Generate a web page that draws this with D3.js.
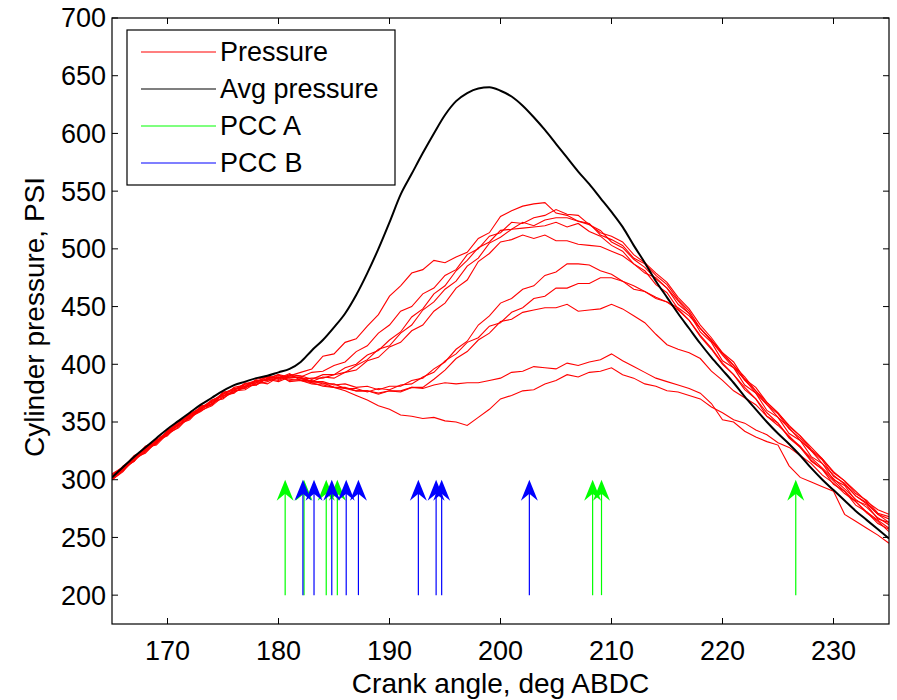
<!DOCTYPE html>
<html>
<head>
<meta charset="utf-8">
<script src="https://cdn.jsdelivr.net/npm/d3@7"></script>
<style>
  body { margin: 0; background: #fff; }
</style>
</head>
<body>
<div id="chart"></div>
<script>
// crank angle grid, 1 deg steps
const angles = d3.range(165, 236);

const avgPressure = [302,311,320,328,336,344,351,358,365,371,377,382,385,388,390,393,396,
  402,412,421,432,444,460,479,500,523,547,565,583,600,616,628,635,639,640,637,632,624,614,603,591,579,567,556,544,532,
  519,503,488,472,458,444,431,418,406,395,384,372,361,350,340,331,321,310,300,291,282,273,265,257,249];

const run1 = [303,309,319,326,333,342,350,355,361,368,375,378,383,385,389,388,390,
  393,396,407,409,419,422,433,443,459,468,479,482,490,488,493,497,509,514,528,533,537,539,540,531,529,524,522,512,508,
  503,492,487,477,469,456,446,431,421,409,399,386,377,365,357,344,336,325,317,303,297,286,280,270,266];
const run2 = [301,312,318,327,334,340,349,356,363,367,374,379,381,386,387,391,389,
  389,393,394,399,402,411,416,427,434,446,450,461,466,477,482,495,500,511,514,523,522,527,529,534,530,529,521,516,506,
  501,491,484,474,466,452,444,428,419,403,397,382,375,360,354,340,334,320,314,300,295,282,278,266,263];
const run3 = [304,310,321,325,335,341,347,357,362,369,372,380,382,384,390,387,391,
  390,387,391,391,397,400,408,412,421,428,441,448,461,468,481,490,501,506,516,517,523,520,525,527,527,524,521,514,511,
  506,495,488,479,471,458,448,434,423,410,402,387,380,367,358,346,338,326,318,306,299,288,282,271,268];
const run4 = [300,308,317,324,332,339,346,354,359,366,371,376,380,383,385,389,386,
  387,388,388,391,393,399,404,413,416,427,434,447,454,465,472,485,492,505,510,517,518,519,520,523,519,522,515,511,503,
  498,487,481,469,462,448,438,424,413,400,391,378,370,355,349,336,328,316,309,296,290,278,272,262,257];
const run5 = [302,310,316,327,331,343,348,353,364,365,376,377,384,382,388,386,390,
  388,385,389,388,393,395,403,406,415,419,429,434,446,453,466,473,489,496,506,508,512,509,512,507,507,504,503,502,498,
  494,487,479,475,466,455,444,431,420,408,397,387,375,365,354,345,334,325,314,304,296,286,279,270,263];
const run6 = [305,311,318,329,333,341,351,354,360,369,373,375,383,386,386,390,388,
  389,385,385,382,383,380,381,378,381,381,386,388,396,402,413,420,434,442,453,457,465,468,477,480,487,487,486,481,478,
  472,465,463,457,454,447,438,425,414,401,391,380,370,358,349,337,329,317,309,299,290,281,272,265,258];
const run7 = [301,309,320,326,334,338,349,357,362,366,375,379,379,387,389,388,392,
  386,386,383,383,379,379,376,379,378,382,383,389,393,403,409,419,423,433,436,445,449,457,459,466,466,470,470,475,475,
  472,468,463,458,454,449,442,431,421,410,399,389,377,367,358,347,338,328,318,307,299,290,281,274,270];
const run8 = [300,307,319,323,333,340,345,355,360,364,372,377,378,384,387,385,389,
  388,384,384,380,380,377,377,374,377,376,380,380,387,395,405,411,421,427,437,439,445,447,449,449,452,446,447,448,452,
  448,442,436,426,417,413,410,405,394,386,377,371,365,355,347,338,328,319,310,301,292,283,276,267,261];
const run9 = [302,308,317,325,332,342,347,356,361,368,370,378,381,382,388,391,385,
  386,383,382,380,379,377,377,375,377,377,380,379,382,384,383,384,384,386,388,393,394,398,397,396,401,399,402,404,409,
  403,398,393,388,385,382,379,375,366,352,350,342,337,333,330,312,302,298,294,290,270,264,258,252,245];
const run10 = [304,311,316,328,330,340,348,352,362,365,374,376,381,385,383,389,387,
  386,384,381,380,377,373,369,364,361,356,355,353,354,351,350,347,354,361,370,373,377,378,383,386,391,389,393,394,397,
  391,388,383,381,377,376,373,370,363,358,352,349,343,339,332,328,321,314,304,297,288,281,271,264,255];

const runs = [run1, run2, run3, run4, run5, run6, run7, run8, run9, run10];

// peak cylinder pressure angles
const pccA = [180.6, 182.3, 184.3, 185.3, 208.3, 209.1, 226.6];
const pccB = [182.2, 183.2, 184.8, 186.1, 187.2, 192.6, 194.2, 194.7, 202.6];

const xTicks = [170, 180, 190, 200, 210, 220, 230];
const yTicks = [200, 250, 300, 350, 400, 450, 500, 550, 600, 650, 700];

const legendItems = [
  {label: "Pressure", color: "#ff0000"},
  {label: "Avg pressure", color: "#000000"},
  {label: "PCC A", color: "#00ff00"},
  {label: "PCC B", color: "#0000ff"}
];

const width = 897, height = 700;
const m = {left: 112, right: 889, top: 18, bottom: 624};

const svg = d3.select("#chart")
    .append("svg")
    .attr("width", width)
    .attr("height", height)
    .attr("font-family", "'Liberation Sans', Arial, sans-serif")
    .attr("font-size", 27);

svg.append("rect").attr("width", width).attr("height", height).attr("fill", "#fff");

const x = d3.scaleLinear().domain([165, 235]).range([m.left, m.right]);
const y = d3.scaleLinear().domain([175, 700]).range([m.bottom, m.top]);

svg.append("clipPath").attr("id", "clip")
  .append("rect")
    .attr("x", m.left).attr("y", m.top)
    .attr("width", m.right - m.left).attr("height", m.bottom - m.top);

const plot = svg.append("g").attr("clip-path", "url(#clip)");

const line = d3.line()
    .x((d, i) => x(angles[i]))
    .y(d => y(d));

// individual runs
plot.append("g")
  .selectAll("path")
  .data(runs)
  .enter().append("path")
    .attr("d", line)
    .attr("fill", "none")
    .attr("stroke", "#ff0000")
    .attr("stroke-width", 1.1);

// average
plot.append("path")
    .datum(avgPressure)
    .attr("d", line.curve(d3.curveMonotoneX))
    .attr("fill", "none")
    .attr("stroke", "#000")
    .attr("stroke-width", 2);

// arrows
const arrowFrom = 200, arrowTo = 300;
function drawArrows(data, color) {
  const a = plot.append("g")
    .selectAll("g")
    .data(data)
    .enter().append("g");
  a.append("line")
      .attr("x1", d => x(d)).attr("x2", d => x(d))
      .attr("y1", y(arrowFrom)).attr("y2", y(arrowTo) + 4)
      .attr("stroke", color)
      .attr("stroke-width", 1.2);
  a.append("path")
      .attr("transform", d => `translate(${x(d)},${y(arrowTo)})`)
      .attr("d", "M0,0L8.5,21L0,14L-8.5,21Z")
      .attr("fill", color);
}
drawArrows(pccA, "#00ff00");
drawArrows(pccB, "#0000ff");

// frame
svg.append("rect")
    .attr("x", m.left).attr("y", m.top)
    .attr("width", m.right - m.left).attr("height", m.bottom - m.top)
    .attr("fill", "none")
    .attr("stroke", "#000")
    .attr("stroke-width", 1.2);

// ticks (inside, all four sides)
const tickLen = 6;
const tk = svg.append("g").attr("stroke", "#000").attr("stroke-width", 1);
xTicks.forEach(t => {
  tk.append("line").attr("x1", x(t)).attr("x2", x(t)).attr("y1", m.bottom).attr("y2", m.bottom - tickLen);
  tk.append("line").attr("x1", x(t)).attr("x2", x(t)).attr("y1", m.top).attr("y2", m.top + tickLen);
});
yTicks.forEach(t => {
  tk.append("line").attr("x1", m.left).attr("x2", m.left + tickLen).attr("y1", y(t)).attr("y2", y(t));
  tk.append("line").attr("x1", m.right).attr("x2", m.right - tickLen).attr("y1", y(t)).attr("y2", y(t));
});

// tick labels
svg.append("g")
  .selectAll("text")
  .data(xTicks)
  .enter().append("text")
    .attr("x", d => x(d))
    .attr("y", 660)
    .attr("text-anchor", "middle")
    .text(d => d);

svg.append("g")
  .selectAll("text")
  .data(yTicks)
  .enter().append("text")
    .attr("x", m.left - 6)
    .attr("y", d => y(d))
    .attr("dy", "0.35em")
    .attr("text-anchor", "end")
    .text(d => d);

// axis titles
svg.append("text")
    .attr("x", (m.left + m.right) / 2)
    .attr("y", 693)
    .attr("text-anchor", "middle")
    .attr("font-size", 28)
    .text("Crank angle, deg ABDC");

svg.append("text")
    .attr("transform", `translate(44,${(m.top + m.bottom) / 2 - 4})rotate(-90)`)
    .attr("text-anchor", "middle")
    .attr("font-size", 28)
    .text("Cylinder pressure, PSI");

// legend
const lg = svg.append("g");
lg.append("rect")
    .attr("x", 127).attr("y", 30)
    .attr("width", 268).attr("height", 155)
    .attr("fill", "#fff")
    .attr("stroke", "#000")
    .attr("stroke-width", 1.2);

const item = lg.selectAll("g")
  .data(legendItems)
  .enter().append("g")
    .attr("transform", (d, i) => `translate(0,${52 + i * 37})`);

item.append("line")
    .attr("x1", 141).attr("x2", 216)
    .attr("stroke", d => d.color)
    .attr("stroke-width", 1.2);

item.append("text")
    .attr("x", 220)
    .attr("dy", "0.35em")
    .text(d => d.label);
</script>
</body>
</html>
